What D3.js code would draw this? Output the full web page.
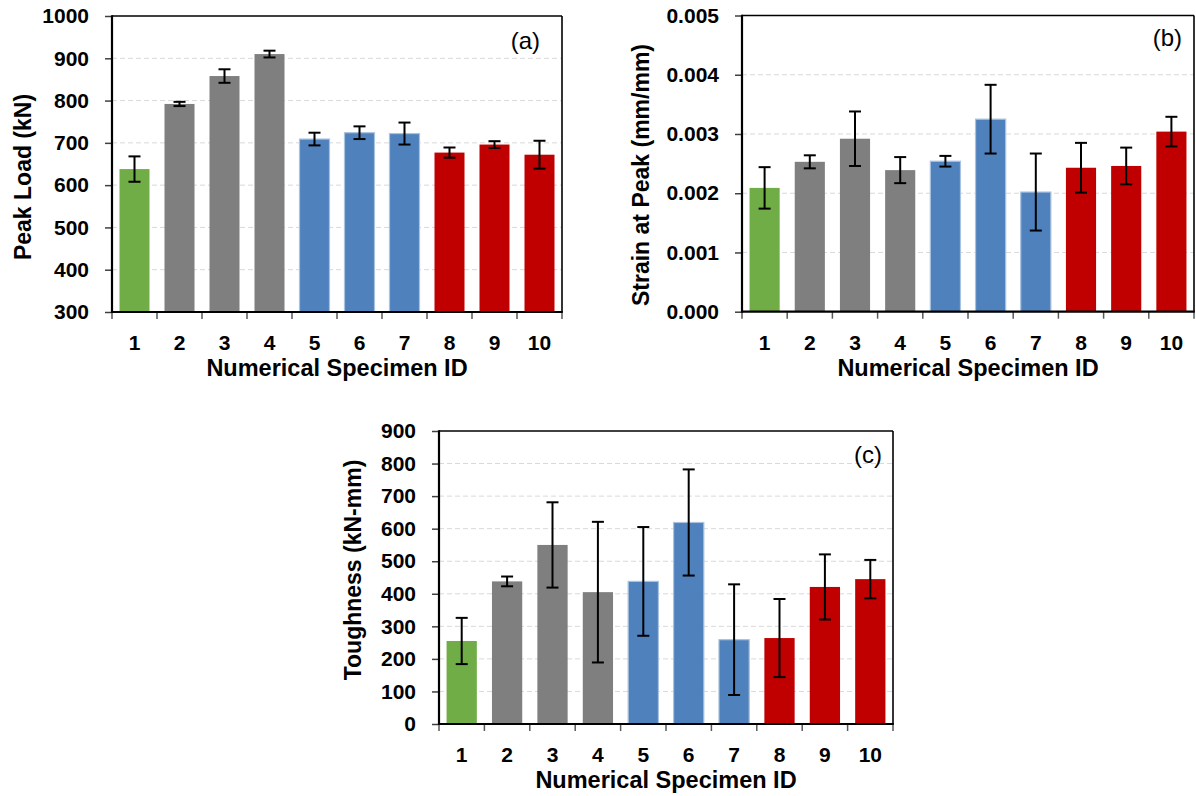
<!DOCTYPE html>
<html>
<head>
<meta charset="utf-8">
<script src="https://cdn.jsdelivr.net/npm/d3@7"></script>
<style>
  html, body { margin: 0; padding: 0; background: #ffffff; }
  svg { display: block; }
  text { font-family: "Liberation Sans", Arial, sans-serif; }
</style>
</head>
<body>
<svg id="chart" width="1196" height="796"></svg>
<script>
// ---------- data ----------
const specimenIds = ["1", "2", "3", "4", "5", "6", "7", "8", "9", "10"];
const specimenGroup = ["green", "gray", "gray", "gray", "blue", "blue", "blue", "red", "red", "red"];

const peakLoad    = [638, 792, 858, 910, 709, 724, 722, 677, 696, 672];
const peakLoadErr = [30, 5, 16, 8, 15, 15, 26, 12, 8, 33];

const strainPeak    = [0.00209, 0.00253, 0.00292, 0.00239, 0.00254, 0.00325, 0.00202, 0.00243, 0.00246, 0.00304];
const strainPeakErr = [0.00035, 0.00011, 0.00046, 0.00022, 0.00009, 0.00058, 0.00065, 0.00042, 0.00031, 0.00025];

const toughness    = [255, 438, 550, 405, 438, 619, 259, 264, 421, 445];
const toughnessErr = [71, 15, 131, 216, 167, 163, 170, 120, 100, 59];

const loadTicks   = [300, 400, 500, 600, 700, 800, 900, 1000];
const strainTicks = [0, 0.001, 0.002, 0.003, 0.004, 0.005];
const toughTicks  = [0, 100, 200, 300, 400, 500, 600, 700, 800, 900];

const xTitle = "Numerical Specimen ID";

// ---------- styles ----------
const groupFill = { green: "#70AD47", gray: "#7F7F7F", blue: "#4F81BD", red: "#C00000" };
const groupStroke = { green: "none", gray: "none", blue: "#A9C2E0", red: "none" };

const panels = [
  { values: peakLoad, errors: peakLoadErr, domain: [300, 1000], ticks: loadTicks, fmt: d3.format("d"),
    left: 112, right: 562, top: 16, bottom: 312,
    yTitle: "Peak Load (kN)", yTitleX: 23, yTitleY: 177,
    tag: "(a)", tagX: 540, tagY: 49 },
  { values: strainPeak, errors: strainPeakErr, domain: [0, 0.005], ticks: strainTicks, fmt: d3.format(".3f"),
    left: 742, right: 1194, top: 15.5, bottom: 311.7,
    yTitle: "Strain at Peak (mm/mm)", yTitleX: 641, yTitleY: 175,
    tag: "(b)", tagX: 1182, tagY: 45.5 },
  { values: toughness, errors: toughnessErr, domain: [0, 900], ticks: toughTicks, fmt: d3.format("d"),
    left: 439, right: 893, top: 431, bottom: 724,
    yTitle: "Toughness (kN-mm)", yTitleX: 353, yTitleY: 570,
    tag: "(c)", tagX: 882, tagY: 463 }
];

const svg = d3.select("#chart");

panels.forEach(p => {
  const g = svg.append("g");
  const x = d3.scaleBand().domain(specimenIds).range([p.left, p.right])
    .paddingInner(1 / 3).paddingOuter(1 / 6);
  const y = d3.scaleLinear().domain(p.domain).range([p.bottom, p.top]);
  const step = x.step();

  // gridlines
  g.append("g").selectAll("line")
    .data(p.ticks.filter(t => t !== p.domain[0] && t !== p.domain[1]))
    .join("line")
    .attr("x1", p.left).attr("x2", p.right)
    .attr("y1", d => y(d)).attr("y2", d => y(d))
    .attr("stroke", "#D9D9D9").attr("stroke-width", 1)
    .attr("stroke-dasharray", "5,3");

  // bars
  const rows = specimenIds.map((id, i) => ({ id, v: p.values[i], e: p.errors[i], grp: specimenGroup[i] }));
  g.append("g").selectAll("rect")
    .data(rows)
    .join("rect")
    .attr("x", d => x(d.id))
    .attr("width", x.bandwidth())
    .attr("y", d => y(d.v))
    .attr("height", d => p.bottom - y(d.v))
    .attr("fill", d => groupFill[d.grp])
    .attr("stroke", d => groupStroke[d.grp])
    .attr("stroke-width", 1.2);

  // error bars
  const eb = g.append("g").attr("stroke", "#000").attr("stroke-width", 2);
  const cx = d => x(d.id) + x.bandwidth() / 2;
  eb.selectAll("line.v").data(rows).join("line").attr("class", "v")
    .attr("x1", cx).attr("x2", cx)
    .attr("y1", d => y(d.v + d.e)).attr("y2", d => y(d.v - d.e));
  eb.selectAll("line.t").data(rows).join("line").attr("class", "t")
    .attr("x1", d => cx(d) - 6).attr("x2", d => cx(d) + 6)
    .attr("y1", d => y(d.v + d.e)).attr("y2", d => y(d.v + d.e));
  eb.selectAll("line.b").data(rows).join("line").attr("class", "b")
    .attr("x1", d => cx(d) - 6).attr("x2", d => cx(d) + 6)
    .attr("y1", d => y(d.v - d.e)).attr("y2", d => y(d.v - d.e));

  // y axis
  const yAxis = g.append("g").attr("transform", `translate(${p.left},0)`)
    .call(d3.axisLeft(y).tickValues(p.ticks).tickFormat(p.fmt).tickSize(7).tickPadding(16));
  yAxis.select(".domain").remove();
  yAxis.selectAll(".tick line").attr("stroke", "#404040").attr("stroke-width", 1.5);
  yAxis.selectAll(".tick text")
    .attr("font-size", 21).attr("font-weight", "bold").attr("fill", "#000")
    .attr("font-family", "'Liberation Sans', Arial, sans-serif");

  // x axis labels
  const xAxis = g.append("g").attr("transform", `translate(0,${p.bottom})`)
    .call(d3.axisBottom(x).tickSize(0).tickPadding(23));
  xAxis.select(".domain").remove();
  xAxis.selectAll(".tick text")
    .attr("font-size", 21).attr("font-weight", "bold").attr("fill", "#000")
    .attr("font-family", "'Liberation Sans', Arial, sans-serif");

  // x boundary ticks
  const bounds = specimenIds.map(id => x(id) - step / 6).concat([p.right]);
  g.append("g").selectAll("line").data(bounds).join("line")
    .attr("x1", d => d).attr("x2", d => d)
    .attr("y1", p.bottom).attr("y2", p.bottom + 7)
    .attr("stroke", "#595959").attr("stroke-width", 1.5);

  // frame: top & right
  g.append("line").attr("x1", p.left).attr("x2", p.right).attr("y1", p.top).attr("y2", p.top)
    .attr("stroke", "#000").attr("stroke-width", 1.6);
  g.append("line").attr("x1", p.right).attr("x2", p.right).attr("y1", p.top).attr("y2", p.bottom)
    .attr("stroke", "#000").attr("stroke-width", 1.6);
  // axis lines
  g.append("line").attr("x1", p.left).attr("x2", p.left).attr("y1", p.top - 0.8).attr("y2", p.bottom + 1)
    .attr("stroke", "#000").attr("stroke-width", 2.2);
  g.append("line").attr("x1", p.left).attr("x2", p.right + 0.8).attr("y1", p.bottom).attr("y2", p.bottom)
    .attr("stroke", "#000").attr("stroke-width", 2.2);

  // titles
  g.append("text")
    .attr("x", (p.left + p.right) / 2).attr("y", p.bottom + 64)
    .attr("text-anchor", "middle").attr("font-size", 23.5).attr("font-weight", "bold")
    .text(xTitle);
  g.append("text")
    .attr("transform", `translate(${p.yTitleX},${p.yTitleY}) rotate(-90)`)
    .attr("dy", "0.35em")
    .attr("text-anchor", "middle").attr("font-size", 23).attr("font-weight", "bold")
    .text(p.yTitle);

  // panel tag
  g.append("text")
    .attr("x", p.tagX).attr("y", p.tagY)
    .attr("text-anchor", "end").attr("font-size", 24)
    .text(p.tag);
});
</script>
</body>
</html>
